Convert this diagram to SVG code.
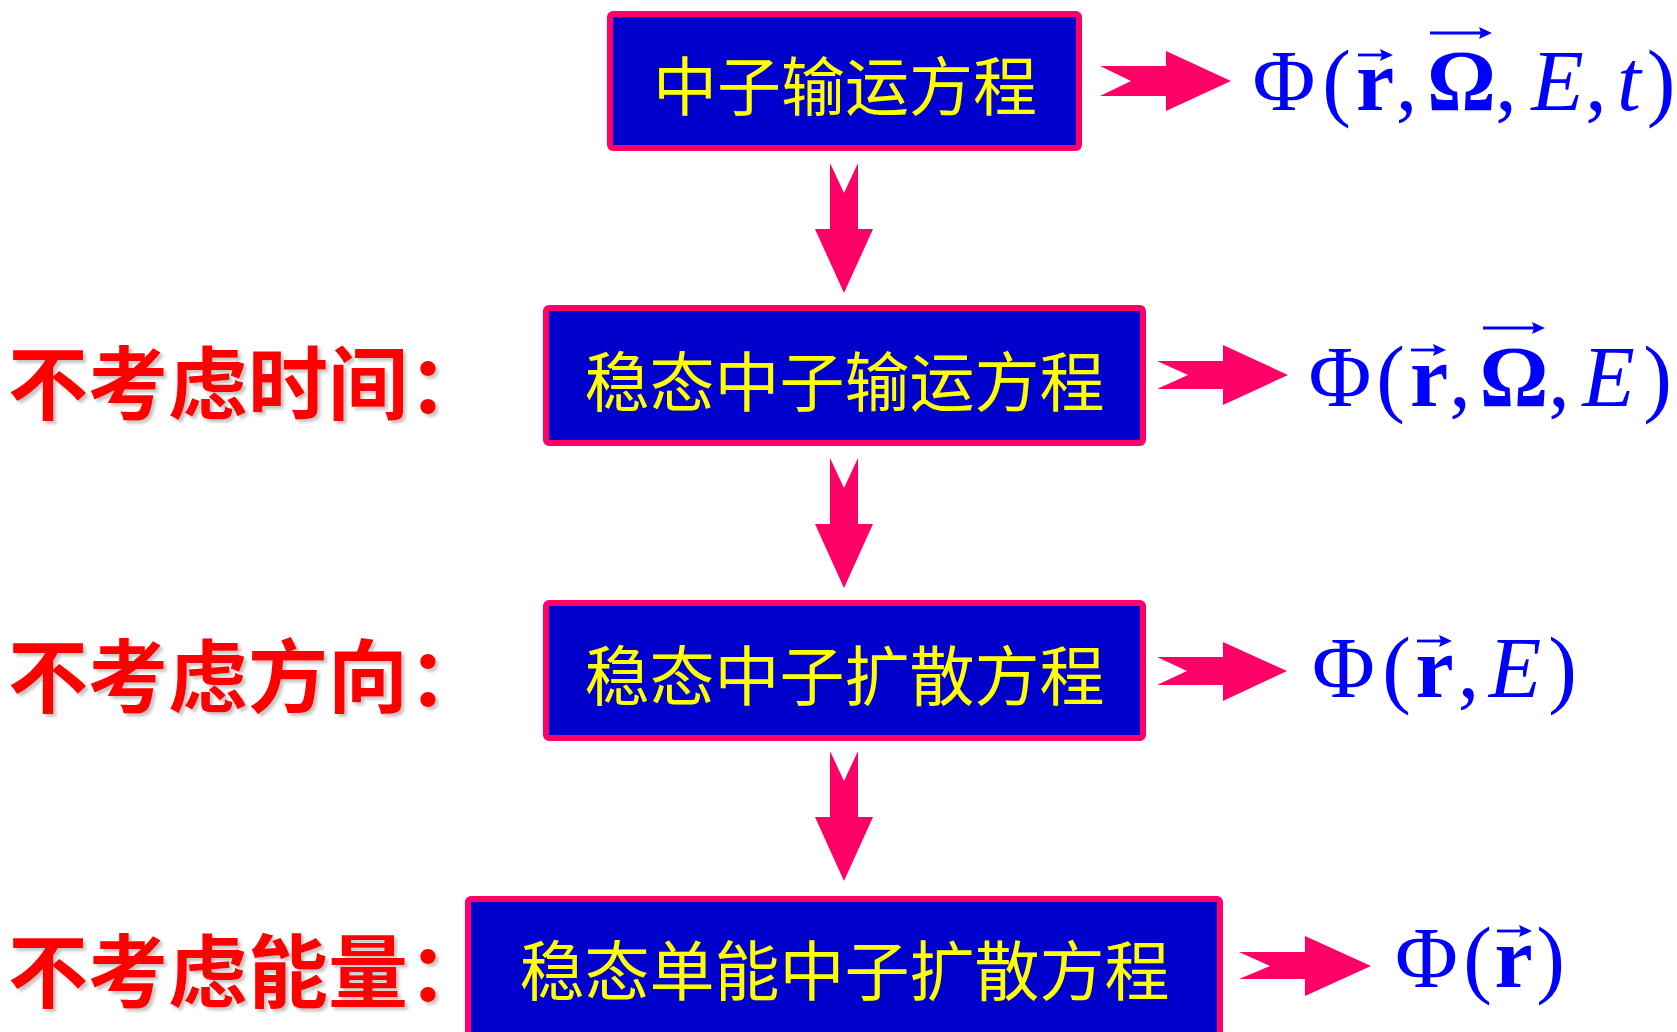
<svg xmlns="http://www.w3.org/2000/svg" width="1677" height="1032" viewBox="0 0 1677 1032">
<defs>
<style>
.box{fill:#0000CC;stroke:#FF0066;stroke-width:6}
.bt{font-family:"Noto Sans CJK SC","Noto Sans",sans-serif;fill:#FFFF00;text-anchor:middle}
.lab{font-family:"Noto Sans CJK SC","Noto Sans",sans-serif;font-weight:bold;fill:#FF0000;font-size:80px}
.arr{fill:#FF0066}
.f{font-family:"Liberation Serif","Times New Roman",serif;fill:#0000FF;font-size:86px;text-anchor:middle}
.b{font-weight:bold}
.i{font-style:italic}
.vl{stroke:#0000FF;stroke-width:2.8}
.vh{fill:#0000FF}
</style>
<filter id="sh" x="-5%" y="-5%" width="115%" height="125%">
<feDropShadow dx="3" dy="3" stdDeviation="1.5" flood-color="#808080" flood-opacity="0.45"/>
</filter>
</defs>
<rect width="1677" height="1032" fill="#FFFFFF"/>

<g id="connectors">
<polygon class="arr" points="830,163 844,193 858,163 858,229 873,229 844,293 815,229 830,229"/>
<polygon class="arr" points="830,458 844,488 858,458 858,524 873,524 844,588 815,524 830,524"/>
<polygon class="arr" points="830,751 844,781 858,751 858,817 873,817 844,881 815,817 830,817"/>
<polygon class="arr" points="1100,66 1166,66 1166,51 1231,81 1166,111 1166,96 1100,96 1131,81"/>
<polygon class="arr" points="1157,361 1223,361 1223,345 1288,375 1223,405 1223,389 1157,389 1188,375"/>
<polygon class="arr" points="1157,657 1223,657 1223,642 1287,671 1223,701 1223,685 1157,685 1187,671"/>
<polygon class="arr" points="1239,952 1305,952 1305,936 1371,966 1305,996 1305,979 1239,979 1270,966"/>
</g>

<g id="node1">
<rect class="box" x="610" y="14" width="469" height="134" rx="3"/>
<text class="bt" x="845" y="110" font-size="64">中子输运方程</text>
</g>
<g id="node2">
<rect class="box" x="546" y="308" width="597" height="135" rx="3"/>
<text class="bt" x="844.5" y="406" font-size="65">稳态中子输运方程</text>
</g>
<g id="node3">
<rect class="box" x="546" y="603" width="597" height="135" rx="3"/>
<text class="bt" x="844.5" y="700" font-size="65">稳态中子扩散方程</text>
</g>
<g id="node4">
<rect class="box" x="468" y="899" width="752" height="150" rx="3"/>
<text class="bt" x="844.5" y="995" font-size="65">稳态单能中子扩散方程</text>
</g>

<g id="labels" filter="url(#sh)">
<text class="lab" x="8" y="413">不考虑时间：</text>
<text class="lab" x="8" y="706">不考虑方向：</text>
<text class="lab" x="8" y="1001">不考虑能量：</text>
</g>

<g id="formula1">
<text class="f" x="1284" y="110">Φ</text>
<text class="f" x="1336.5" y="110">(</text>
<text class="f b" x="1375" y="110">r</text>
<text class="f" x="1406.5" y="110">,</text>
<text class="f b" x="1461.5" y="110">Ω</text>
<text class="f" x="1506" y="110">,</text>
<text class="f i" x="1557.5" y="110">E</text>
<text class="f" x="1596" y="110">,</text>
<text class="f i" x="1629" y="110">t</text>
<text class="f" x="1661" y="110">)</text>
<line class="vl" x1="1358" y1="55" x2="1386" y2="55"/>
<polygon class="vh" points="1393,55 1380,49 1382,55 1380,61"/>
<line class="vl" x1="1430" y1="33" x2="1485" y2="33"/>
<polygon class="vh" points="1492,33 1479,27 1481,33 1479,39"/>
</g>

<g id="formula2">
<text class="f" x="1340" y="406">Φ</text>
<text class="f" x="1390.5" y="406">(</text>
<text class="f b" x="1429" y="406">r</text>
<text class="f" x="1460" y="406">,</text>
<text class="f b" x="1514" y="406">Ω</text>
<text class="f" x="1559" y="406">,</text>
<text class="f i" x="1608.5" y="406">E</text>
<text class="f" x="1657.5" y="406">)</text>
<line class="vl" x1="1411" y1="350" x2="1439" y2="350"/>
<polygon class="vh" points="1446,350 1433,344 1435,350 1433,356"/>
<line class="vl" x1="1483" y1="328" x2="1538" y2="328"/>
<polygon class="vh" points="1545,328 1532,322 1534,328 1532,334"/>
</g>

<g id="formula3">
<text class="f" x="1343.5" y="697">Φ</text>
<text class="f" x="1396.5" y="697">(</text>
<text class="f b" x="1434.5" y="697">r</text>
<text class="f" x="1468.5" y="697">,</text>
<text class="f i" x="1515" y="697">E</text>
<text class="f" x="1562.5" y="697">)</text>
<line class="vl" x1="1417" y1="641" x2="1445" y2="641"/>
<polygon class="vh" points="1452,641 1439,635 1441,641 1439,647"/>
</g>

<g id="formula4">
<text class="f" x="1426.5" y="987">Φ</text>
<text class="f" x="1477.5" y="987">(</text>
<text class="f b" x="1513.5" y="987">r</text>
<text class="f" x="1550.5" y="987">)</text>
<line class="vl" x1="1497" y1="931" x2="1525" y2="931"/>
<polygon class="vh" points="1532,931 1519,925 1521,931 1519,937"/>
</g>
</svg>
